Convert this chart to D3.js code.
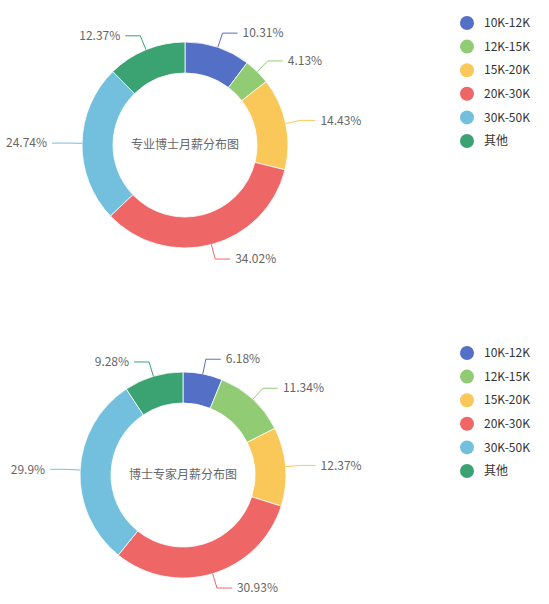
<!DOCTYPE html>
<html>
<head>
<meta charset="utf-8">
<script src="https://cdn.jsdelivr.net/npm/d3@7"></script>
<style>
  html, body { margin: 0; padding: 0; background: #fff; }
  svg text { font-family: "Microsoft YaHei", "Noto Sans CJK SC", "Noto Sans", sans-serif; }
</style>
</head>
<body>
<div class="vis"></div>
<script>
(function() {
  'use strict';

  var categories = ['10K-12K', '12K-15K', '15K-20K', '20K-30K', '30K-50K', '其他'];
  var colors = ['#5470c6', '#91cc75', '#fac858', '#ee6666', '#73c0de', '#3ba272'];
  var titles = ['专业博士月薪分布图', '博士专家月薪分布图'];
  var phdValues = [10.31, 4.13, 14.43, 34.02, 24.74, 12.37];
  var expertValues = [6.18, 11.34, 12.37, 30.93, 29.9, 9.28];

  var width = 549,
    height = 604;

  var svg = d3.select('.vis').append('svg')
    .attr('width', width)
    .attr('height', height);

  var charts = [
    {title: titles[0], values: phdValues, cx: 185, cy: 145, legendTop: 23},
    {title: titles[1], values: expertValues, cx: 183, cy: 475, legendTop: 353}
  ];

  var outerR = 103,
    innerR = 72,
    len1 = 15,
    len2 = 15;

  var color = d3.scaleOrdinal().domain(categories).range(colors);

  var pie = d3.pie()
    .sort(null)
    .value(function(d) { return d.value; });

  var arc = d3.arc().innerRadius(innerR).outerRadius(outerR);

  charts.forEach(function(c) {
    var rows = categories.map(function(name, i) {
      return {name: name, value: c.values[i]};
    });
    var arcs = pie(rows);

    var g = svg.append('g')
      .attr('transform', 'translate(' + c.cx + ',' + c.cy + ')');

    g.selectAll('path.slice')
      .data(arcs)
      .enter().append('path')
        .attr('class', 'slice')
        .attr('d', arc)
        .attr('fill', function(d) { return color(d.data.name); })
        .attr('stroke', '#fff')
        .attr('stroke-width', 0.8);

    // label lines, echarts style: radial piece then horizontal piece
    var labels = arcs.map(function(d) {
      var a = (d.startAngle + d.endAngle) / 2;
      var sx = Math.sin(a), sy = -Math.cos(a);
      var p0 = [sx * outerR, sy * outerR];
      var p1 = [sx * (outerR + len1), sy * (outerR + len1)];
      var dir = sx >= 0 ? 1 : -1;
      var p2 = [p1[0] + dir * len2, p1[1]];
      return {d: d, pts: [p0, p1, p2], dir: dir};
    });

    g.selectAll('polyline')
      .data(labels)
      .enter().append('polyline')
        .attr('points', function(l) { return l.pts.map(function(p) { return p.join(','); }).join(' '); })
        .attr('fill', 'none')
        .attr('stroke', function(l) { return color(l.d.data.name); })
        .attr('stroke-width', 1);

    g.selectAll('text.lbl')
      .data(labels)
      .enter().append('text')
        .attr('class', 'lbl')
        .attr('x', function(l) { return l.pts[2][0] + l.dir * 5; })
        .attr('y', function(l) { return l.pts[2][1]; })
        .attr('dy', '0.35em')
        .attr('text-anchor', function(l) { return l.dir > 0 ? 'start' : 'end'; })
        .attr('font-size', 12)
        .attr('fill', '#666')
        .text(function(l) { return l.d.data.value + '%'; });

    g.append('text')
      .attr('text-anchor', 'middle')
      .attr('dy', '0.35em')
      .attr('font-size', 12)
      .attr('fill', '#666')
      .text(c.title);

    var legend = svg.append('g')
      .attr('transform', 'translate(467,' + c.legendTop + ')');

    var item = legend.selectAll('g')
      .data(categories)
      .enter().append('g')
        .attr('transform', function(d, i) { return 'translate(0,' + (i * 23.6) + ')'; });

    item.append('circle')
      .attr('r', 7)
      .attr('fill', function(d) { return color(d); });

    item.append('text')
      .attr('x', 17)
      .attr('dy', '0.35em')
      .attr('font-size', 12)
      .attr('fill', '#333')
      .text(function(d) { return d; });
  });

}());
</script>
</body>
</html>
